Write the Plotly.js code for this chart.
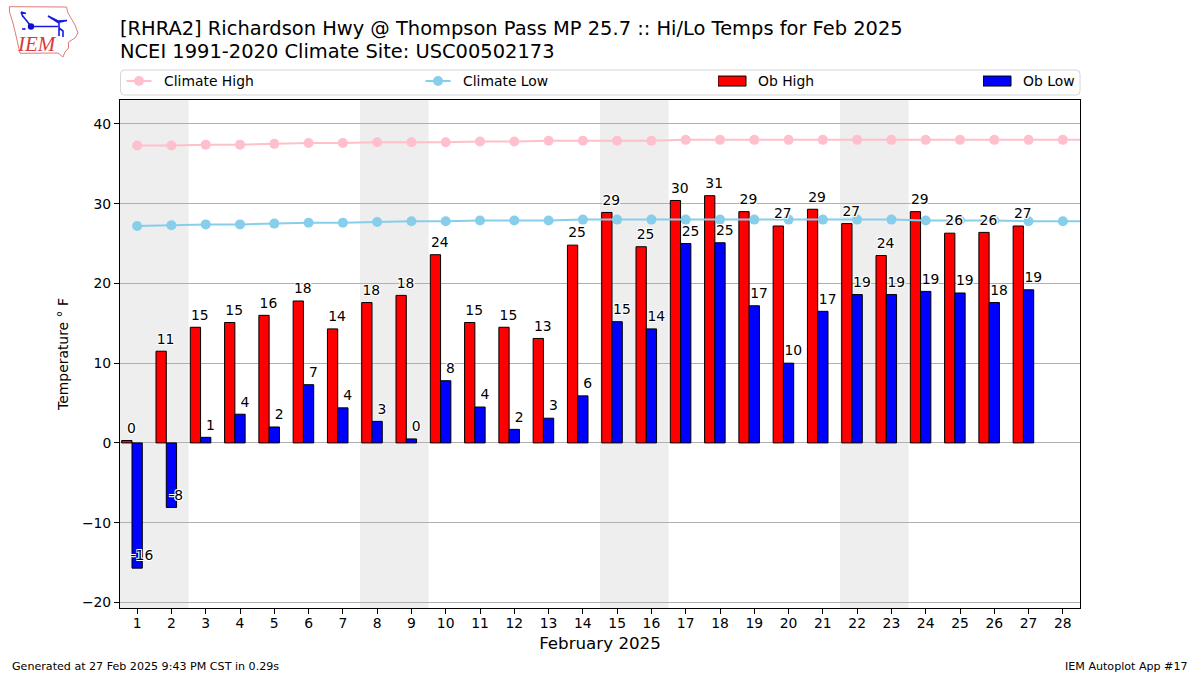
<!DOCTYPE html>
<html>
<head>
<meta charset="utf-8">
<script src="https://cdn.plot.ly/plotly-3.0.1.min.js"></script>
<style>html,body{margin:0;padding:0;background:#fff}</style>
</head>
<body>
<div id="chart" style="width:1200px;height:675px"></div>
<script>
const days = [1,2,3,4,5,6,7,8,9,10,11,12,13,14,15,16,17,18,19,20,21,22,23,24,25,26,27,28];
const climateDays = [1,2,3,4,5,6,7,8,9,10,11,12,13,14,15,16,17,18,19,20,21,22,23,24,25,26,27,28,29];
const obDays = days.slice(0,27);
const climateHigh = [37.3,37.3,37.4,37.4,37.5,37.6,37.6,37.7,37.7,37.7,37.8,37.8,37.9,37.9,37.9,37.9,38,38,38,38,38,38,38,38,38,38,38,38,38];
const climateLow = [27.2,27.3,27.4,27.4,27.5,27.6,27.6,27.7,27.8,27.8,27.9,27.9,27.9,28,28,28,28,28,28,28,28,28,28,27.9,27.9,27.9,27.8,27.8,27.8];
const obHigh = [0.3,11.5,14.5,15.1,16,17.8,14.3,17.6,18.5,23.6,15.1,14.5,13.1,24.8,28.9,24.6,30.4,31,29,27.2,29.3,27.5,23.5,29,26.3,26.4,27.2];
const obLow = [-15.7,-8.1,0.7,3.6,2,7.3,4.4,2.7,0.5,7.8,4.5,1.7,3.1,5.9,15.2,14.3,25,25.1,17.2,10,16.5,18.6,18.6,19,18.8,17.6,19.2];
const obHighLabels = ["0","11","15","15","16","18","14","18","18","24","15","15","13","25","29","25","30","31","29","27","29","27","24","29","26","26","27"];
const obLowLabels = ["-16","-8","1","4","2","7","4","3","0","8","4","2","3","6","15","14","25","25","17","10","17","19","19","19","19","18","19"];
const weekends = [[0.5,2.5],[7.5,9.5],[14.5,16.5],[21.5,23.5]];
const titleLine1 = "[RHRA2] Richardson Hwy @ Thompson Pass MP 25.7 :: Hi/Lo Temps for Feb 2025";
const titleLine2 = "NCEI 1991-2020 Climate Site: USC00502173";

const FONT = "DejaVu Sans, sans-serif";
const W = 1200, H = 675, L = 120, R = 1080, T = 100, B = 608;
const px = x => (x - L) / (R - L);
const py = y => (B - y) / (B - T);
const halo = "-1px -1px 0 #fff,1px -1px 0 #fff,-1px 1px 0 #fff,1px 1px 0 #fff";

const logoSvg = `<svg xmlns="http://www.w3.org/2000/svg" width="90" height="65" viewBox="0 0 90 65">
<path d="M9.3 6.7L66.5 7L68 13L75 25L78 33L75 38L68.5 42L68.5 48L65 52L63 57L58 53L20 53.3L17 40L13 23L9.5 12Z" fill="none" stroke="#e07a7a" stroke-width="1"/>
<path d="M31 26.5H58M22 15L30 25M21 12L26 13.5M21 12L23 17M48 16L58 21L67 20.5L58 22.5ZM59 21V36M59 28L63 31V37M63 31V35" fill="none" stroke="#1a1ae0" stroke-width="1.6"/>
<circle cx="31" cy="26.5" r="3.2" fill="#1010d0"/><circle cx="24.5" cy="29" r="1.1" fill="#1a1ae0"/><circle cx="23" cy="29" r="1" fill="#1a1ae0"/></svg>`;

const bar = (name, x, y, color, offset, legend) => ({
  type: "bar", name, x, y, width: 0.3, offset, legend,
  marker: {color, line: {color: "#000", width: 1}}, hoverinfo: "x+y"
});
const line = (name, y, color, legend) => ({
  type: "scatter", mode: "lines+markers", name, x: climateDays, y, legend,
  line: {color, width: 2}, marker: {color, size: 10}, cliponaxis: true
});
const labels = (x, y, text, shift) => ({
  type: "scatter", mode: "text", x: x.map(d => d + shift), y: y.map(v => v + 1.4), text,
  textposition: "middle center", showlegend: false, hoverinfo: "skip", cliponaxis: false,
  textfont: {family: FONT, size: 13.9, color: "#000", shadow: halo}
});

const legendBox = (x) => ({
  x: px(x), xanchor: "left", y: py(81.5), yanchor: "middle", orientation: "v",
  bgcolor: "rgba(0,0,0,0)", borderwidth: 0, font: {family: FONT, size: 13.9, color: "#000"},
  itemwidth: 30, itemclick: false, itemdoubleclick: false
});

const data = [
  bar("Ob High", obDays, obHigh, "#ff0000", -0.45, "legend3"),
  bar("Ob Low", obDays, obLow, "#0000ff", -0.15, "legend4"),
  line("Climate High", climateHigh, "#ffc0cb", "legend"),
  line("Climate Low", climateLow, "#87ceeb", "legend2"),
  labels(obDays, obHigh, obHighLabels, -0.17),
  labels(obDays, obLow, obLowLabels, 0.14)
];

const shapes = weekends.map(w => ({
  type: "rect", xref: "x", yref: "paper", x0: w[0], x1: w[1], y0: 0, y1: 1,
  fillcolor: "#eeeeee", line: {width: 0}, layer: "below"
}));
{
  const x0 = px(120.5), x1 = px(1080), y0 = py(95), y1 = py(70), rx = 4 / (R - L), ry = 4 / (B - T);
  shapes.push({
    type: "path", xref: "paper", yref: "paper", layer: "above",
    path: `M${x0 + rx},${y0} L${x1 - rx},${y0} Q${x1},${y0} ${x1},${y0 + ry} L${x1},${y1 - ry} Q${x1},${y1} ${x1 - rx},${y1} L${x0 + rx},${y1} Q${x0},${y1} ${x0},${y1 - ry} L${x0},${y0 + ry} Q${x0},${y0} ${x0 + rx},${y0} Z`,
    line: {color: "#d5d5d5", width: 1}, fillcolor: "rgba(0,0,0,0)"
  });
}

const layout = {
  width: W, height: H, autosize: false,
  paper_bgcolor: "#fff", plot_bgcolor: "#fff",
  margin: {l: L, r: W - R, t: T, b: H - B, pad: 0},
  font: {family: FONT, size: 13.9, color: "#000"},
  barmode: "overlay",
  title: {text: titleLine1, x: 120 / W, xanchor: "left", xref: "container", y: 1 - 21 / H, yref: "container", yanchor: "top",
          font: {family: FONT, size: 19.45, color: "#000"}, pad: {t: 0, b: 0, l: 0, r: 0}, automargin: false},
  xaxis: {
    range: [0.5, 28.5], tickmode: "array", tickvals: days, ticktext: days.map(String),
    ticks: "outside", ticklen: 5, tickwidth: 1, tickcolor: "#000", showgrid: false, zeroline: false,
    showline: true, linecolor: "#000", linewidth: 1, mirror: true, ticklabelstandoff: -3,
    tickfont: {family: FONT, size: 13.9, color: "#000"},
    title: {text: "February 2025", font: {family: FONT, size: 16.7, color: "#000"}, standoff: 7}
  },
  yaxis: {
    range: [-20.7, 43], tickmode: "array", tickvals: [-20,-10,0,10,20,30,40],
    ticks: "outside", ticklen: 5, tickwidth: 1, tickcolor: "#000",
    showgrid: true, gridcolor: "#b0b0b0", gridwidth: 1, zeroline: false,
    showline: true, linecolor: "#000", linewidth: 1, mirror: true,
    tickfont: {family: FONT, size: 13.9, color: "#000"},
    title: {text: "Temperature ° F", font: {family: FONT, size: 13.9, color: "#000"}, standoff: 10}
  },
  legend: legendBox(124),
  legend2: legendBox(423),
  legend3: legendBox(718),
  legend4: legendBox(983),
  shapes,
  images: [{
    source: "data:image/svg+xml;charset=utf-8," + encodeURIComponent(logoSvg),
    xref: "paper", yref: "paper", x: px(0), y: py(0), sizex: 90 / (R - L), sizey: 65 / (B - T),
    xanchor: "left", yanchor: "top", sizing: "stretch", layer: "above"
  }],
  annotations: [
    {xref: "paper", yref: "paper", x: px(120), y: py(52), text: titleLine2, showarrow: false, xanchor: "left", yanchor: "middle", borderpad: 0, borderwidth: 0,
     font: {family: FONT, size: 19.45, color: "#000"}},
    {xref: "paper", yref: "paper", x: px(37), y: py(44), text: "<i>IEM</i>", showarrow: false, xanchor: "center", yanchor: "middle",
     font: {family: "Liberation Serif, serif", size: 21, color: "#d83a3a"}},
    {xref: "paper", yref: "paper", x: px(10), y: py(666), text: "Generated at 27 Feb 2025 9:43 PM CST in 0.29s", showarrow: false, xanchor: "left", yanchor: "middle",
     font: {family: FONT, size: 11.1, color: "#000"}},
    {xref: "paper", yref: "paper", x: px(1190), y: py(666), text: "IEM Autoplot App #17", showarrow: false, xanchor: "right", yanchor: "middle",
     font: {family: FONT, size: 11.1, color: "#000"}}
  ]
};

const setAttr = (el, k, v) => { if (el.getAttribute(k) !== v) el.setAttribute(k, v); };
function fixLegendGlyphs(gd) {
  gd.querySelectorAll(".legendpoints path:not(.scatterpts)").forEach(p => {
    setAttr(p, "d", "M14,5H-14V-5H14Z");
    setAttr(p, "transform", "translate(14,0)");
  });
  gd.querySelectorAll(".legendlines path.js-line").forEach(p => setAttr(p, "d", "M2.5,0h25"));
  gd.querySelectorAll(".legendpoints path.scatterpts").forEach(p => setAttr(p, "transform", "translate(15,0)"));
}
Plotly.newPlot("chart", data, layout, {displayModeBar: false, responsive: false}).then(gd => {
  fixLegendGlyphs(gd);
  gd.on("plotly_afterplot", () => fixLegendGlyphs(gd));
  new MutationObserver(() => fixLegendGlyphs(gd)).observe(gd, {subtree: true, childList: true, attributes: true, attributeFilter: ["d", "transform"]});
});
</script>
</body>
</html>
